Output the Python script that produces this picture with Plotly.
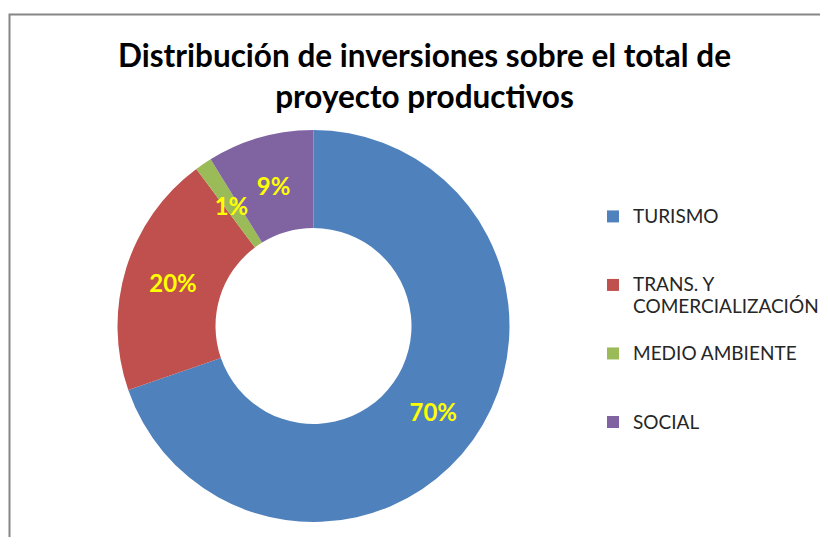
import plotly.graph_objects as go

# Browser body margin (8px) offsets the figure inside the 828x545 window
W, H = 820, 529
OFF = 8

TITLE = "Distribución de inversiones sobre el total de<br>proyecto productivos"
CATEGORIES = ["TURISMO", "TRANS. Y<br>COMERCIALIZACIÓN", "MEDIO AMBIENTE", "SOCIAL"]
VALUES = [69.7, 20.1, 1.4, 8.8]
COLORS = ["#4F81BD", "#C0504D", "#9BBB59", "#8064A2"]
PCT = "%{percent:.0%}"
# which slice labels sit on the thin label ring (narrow slices) vs. the donut itself
NARROW = [False, False, True, True]


def legend_label(c, lines=3, px=19):
    parts = c.split("<br>")
    parts = [f"<span style='font-size:{px}px'>{p}</span>" for p in parts]
    parts += [" "] * (lines - len(parts))
    return "<br>".join(parts)


legend_labels = [legend_label(c) for c in CATEGORIES]

# donut geometry in screen pixels
cx, cy, r = 313.5 - OFF, 326 - OFF, 196
r_lbl = 146 / 0.975  # thin label ring so labels sit on the mid-ring radius


def dom(rad):
    return dict(x=[(cx - rad) / W, (cx + rad) / W], y=[1 - (cy + rad) / H, 1 - (cy - rad) / H])


label_font = dict(family="Lato", size=24, color="#FFFF00", weight="bold")

fig = go.Figure()
fig.add_trace(
    go.Pie(
        labels=legend_labels,
        values=VALUES,
        hole=0.5,
        sort=False,
        direction="clockwise",
        rotation=0,
        marker=dict(colors=COLORS, line=dict(width=0)),
        texttemplate=["" if n else PCT for n in NARROW],
        textposition="inside",
        insidetextorientation="horizontal",
        textfont=label_font,
        domain=dom(r),
        hoverinfo="percent",
    )
)
fig.add_trace(
    go.Pie(
        labels=legend_labels,
        values=VALUES,
        hole=0.95,
        sort=False,
        direction="clockwise",
        rotation=0,
        showlegend=False,
        marker=dict(colors=["rgba(0,0,0,0)"] * len(VALUES), line=dict(width=0)),
        texttemplate=[PCT if n else "" for n in NARROW],
        textposition="inside",
        insidetextorientation="horizontal",
        textfont=label_font,
        domain=dom(r_lbl),
        hoverinfo="skip",
    )
)

fig.update_layout(
    width=W,
    height=H,
    margin=dict(l=0, r=0, t=0, b=0),
    paper_bgcolor="white",
    plot_bgcolor="white",
    title=dict(
        text=TITLE,
        x=(424.5 - OFF) / W,
        xanchor="center",
        y=1 - 59 / H,
        yanchor="top",
        yref="container",
        font=dict(family="Lato", size=31.5, color="black", weight="bold"),
    ),
    uniformtext=dict(minsize=24, mode="show"),
    legend=dict(
        x=585 / W,
        y=1 - 191 / H,
        xanchor="left",
        yanchor="top",
        valign="top",
        font=dict(family="Lato", size=16.8, color="#262626"),
        itemwidth=30,
        bgcolor="rgba(0,0,0,0)",
    ),
    shapes=[
        dict(
            type="rect",
            xref="paper",
            yref="paper",
            x0=(9.5 - OFF) / W,
            x1=1.05,
            y0=-0.05,
            y1=1 - (14.5 - OFF) / H,
            line=dict(color="#868686", width=2),
            fillcolor="rgba(0,0,0,0)",
            layer="below",
        )
    ],
)

fig.write_html("out.html")
